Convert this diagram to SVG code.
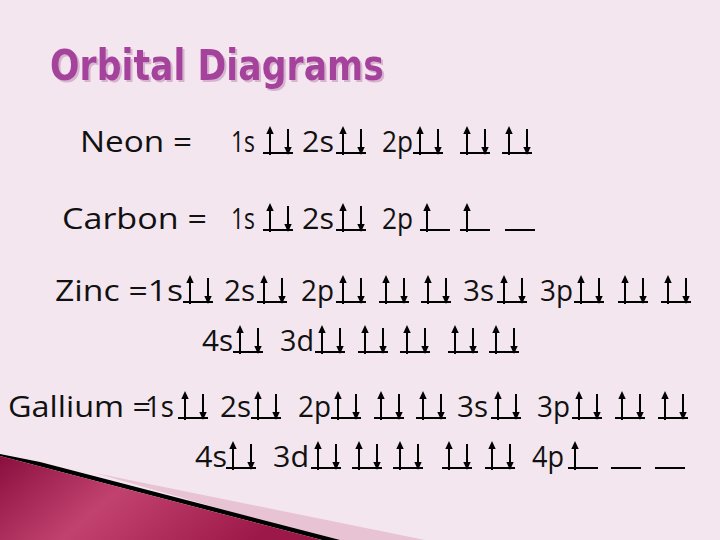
<svg xmlns="http://www.w3.org/2000/svg" width="720" height="540" viewBox="0 0 720 540">
<defs>
<style>
.t{font-family:"Open Sans","Liberation Sans",sans-serif;font-size:29px;fill:#111}
.ln{stroke:#000;stroke-width:2;fill:none}
.ttl{font-family:"DejaVu Sans","Liberation Sans",sans-serif;font-weight:bold;font-size:43px}
</style>
<filter id="sh" x="-5%" y="-20%" width="115%" height="150%">
<feDropShadow dx="2" dy="2" stdDeviation="0.4" flood-color="#d6b4cf" flood-opacity="1"/>
</filter>
<g id="up"><line class="ln" x1="7" y1="3" x2="7" y2="-19"/><polygon points="7,-26 3.3,-18 10.7,-18" fill="#000"/></g>
<g id="dn"><line class="ln" x1="25" y1="-23" x2="25" y2="-4"/><polygon points="25,3 21.3,-5 28.7,-5" fill="#000"/></g>
<g id="empty"><line class="ln" x1="0" y1="1" x2="30" y2="1"/></g>
<g id="pair"><use href="#empty"/><use href="#up"/><use href="#dn"/></g>
<g id="single"><use href="#empty"/><use href="#up"/></g>
<linearGradient id="mg" x1="0" y1="0" x2="1" y2="0.3">
<stop offset="0" stop-color="#8a0f3e"/>
<stop offset="0.45" stop-color="#c2426f"/>
<stop offset="1" stop-color="#9c1848"/>
</linearGradient>
</defs>
<rect width="720" height="540" fill="#f4e6ee"/>

<g id="decoration">
<polygon points="95,473 425,540 330,540" fill="#e8c3d3"/>
<polygon points="0,454 40,462 340,540 322,540 0,456" fill="#000"/>
<polygon points="0,456 322,540 0,540" fill="url(#mg)"/>
</g>

<g id="title">
<text class="ttl" x="50" y="80" fill="#a5439c" filter="url(#sh)" textLength="334" lengthAdjust="spacingAndGlyphs">Orbital Diagrams</text>
</g>

<g id="neon">
<text class="t" x="80" y="152" textLength="112" lengthAdjust="spacingAndGlyphs">Neon =</text>
<text class="t" x="231" y="152" textLength="24" lengthAdjust="spacingAndGlyphs">1s</text>
<text class="t" x="302" y="152" textLength="32" lengthAdjust="spacingAndGlyphs">2s</text>
<text class="t" x="382" y="152" textLength="31" lengthAdjust="spacingAndGlyphs">2p</text>
<use href="#pair" x="263" y="152"/>
<use href="#pair" x="336" y="152"/>
<use href="#pair" x="413" y="152"/>
<use href="#pair" x="460" y="152"/>
<use href="#pair" x="502" y="152"/>
</g>

<g id="carbon">
<text class="t" x="62" y="229" textLength="145" lengthAdjust="spacingAndGlyphs">Carbon =</text>
<text class="t" x="231" y="229" textLength="24" lengthAdjust="spacingAndGlyphs">1s</text>
<text class="t" x="302" y="229" textLength="32" lengthAdjust="spacingAndGlyphs">2s</text>
<text class="t" x="382" y="229" textLength="31" lengthAdjust="spacingAndGlyphs">2p</text>
<use href="#pair" x="263" y="229"/>
<use href="#pair" x="336" y="229"/>
<use href="#single" x="420" y="229"/>
<use href="#single" x="460" y="229"/>
<use href="#empty" x="505" y="229"/>
</g>

<g id="zinc">
<text class="t" x="55" y="301" textLength="128" lengthAdjust="spacingAndGlyphs">Zinc =1s</text>
<text class="t" x="224" y="301" textLength="31" lengthAdjust="spacingAndGlyphs">2s</text>
<text class="t" x="301" y="301" textLength="33" lengthAdjust="spacingAndGlyphs">2p</text>
<text class="t" x="463" y="301" textLength="31" lengthAdjust="spacingAndGlyphs">3s</text>
<text class="t" x="540" y="301" textLength="33" lengthAdjust="spacingAndGlyphs">3p</text>
<use href="#pair" x="183" y="301"/>
<use href="#pair" x="257" y="301"/>
<use href="#pair" x="336" y="301"/>
<use href="#pair" x="379" y="301"/>
<use href="#pair" x="421" y="301"/>
<use href="#pair" x="497" y="301"/>
<use href="#pair" x="574" y="301"/>
<use href="#pair" x="618" y="301"/>
<use href="#pair" x="661" y="301"/>
<text class="t" x="202" y="351" textLength="31" lengthAdjust="spacingAndGlyphs">4s</text>
<text class="t" x="280" y="351" textLength="34" lengthAdjust="spacingAndGlyphs">3d</text>
<use href="#pair" x="233" y="351"/>
<use href="#pair" x="315" y="351"/>
<use href="#pair" x="358" y="351"/>
<use href="#pair" x="400" y="351"/>
<use href="#pair" x="448" y="351"/>
<use href="#pair" x="489" y="351"/>
</g>

<g id="gallium">
<text class="t" x="8" y="417" textLength="143" lengthAdjust="spacingAndGlyphs">Gallium =</text>
<text class="t" x="145" y="417" textLength="29" lengthAdjust="spacingAndGlyphs">1s</text>
<text class="t" x="220" y="417" textLength="31" lengthAdjust="spacingAndGlyphs">2s</text>
<text class="t" x="298" y="417" textLength="33" lengthAdjust="spacingAndGlyphs">2p</text>
<text class="t" x="457" y="417" textLength="31" lengthAdjust="spacingAndGlyphs">3s</text>
<text class="t" x="537" y="417" textLength="33" lengthAdjust="spacingAndGlyphs">3p</text>
<use href="#pair" x="178" y="417"/>
<use href="#pair" x="251" y="417"/>
<use href="#pair" x="331" y="417"/>
<use href="#pair" x="374" y="417"/>
<use href="#pair" x="416" y="417"/>
<use href="#pair" x="491" y="417"/>
<use href="#pair" x="572" y="417"/>
<use href="#pair" x="615" y="417"/>
<use href="#pair" x="658" y="417"/>
<text class="t" x="195" y="467" textLength="32" lengthAdjust="spacingAndGlyphs">4s</text>
<text class="t" x="273" y="467" textLength="36" lengthAdjust="spacingAndGlyphs">3d</text>
<text class="t" x="532" y="467" textLength="32" lengthAdjust="spacingAndGlyphs">4p</text>
<use href="#pair" x="226" y="467"/>
<use href="#pair" x="311" y="467"/>
<use href="#pair" x="352" y="467"/>
<use href="#pair" x="393" y="467"/>
<use href="#pair" x="442" y="467"/>
<use href="#pair" x="485" y="467"/>
<use href="#single" x="568" y="467"/>
<use href="#empty" x="611" y="467"/>
<use href="#empty" x="655" y="467"/>
</g>
</svg>
